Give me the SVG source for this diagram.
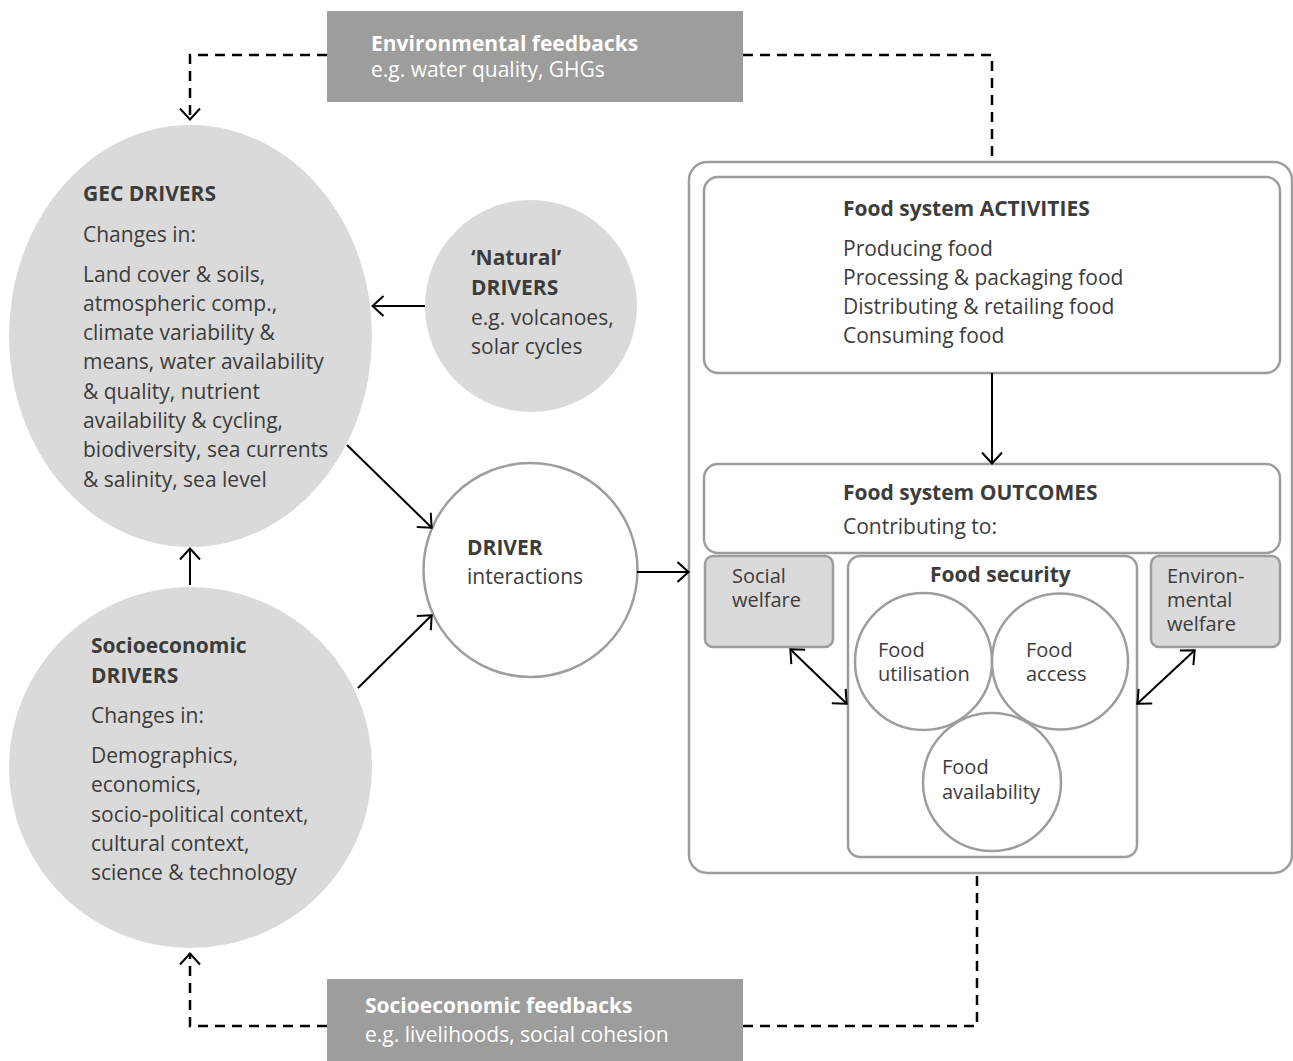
<svg xmlns="http://www.w3.org/2000/svg" width="1293" height="1061" viewBox="0 0 1293 1061">
<style>
text{font-family:"Open Sans","Noto Sans","DejaVu Sans",sans-serif;font-size:21px;fill:#3c3c3b}
.b{font-weight:700}
.w{fill:#ffffff}
.s{font-size:20px}
.fb{fill:#9d9d9c}
.drv{fill:#dadada}
.box{fill:#ffffff;stroke:#9d9d9c;stroke-width:2.5}
.gbox{fill:#dadada;stroke:#9d9d9c;stroke-width:2.5}
.ln{fill:none;stroke:#000;stroke-width:2}
.dash{fill:none;stroke:#000;stroke-width:2.5;stroke-dasharray:10 7}
</style>
<defs>
<marker id="arr" markerUnits="userSpaceOnUse" viewBox="0 0 14 22" markerWidth="14" markerHeight="22" refX="12.5" refY="11" orient="auto-start-reverse">
<path d="M1,1 L12,11 L1,21" fill="none" stroke="#000" stroke-width="2"/>
</marker>
</defs>

<g id="env-feedbacks">
<rect class="fb" x="327" y="11" width="416" height="91"/>
<text class="b w" x="371" y="51">Environmental feedbacks</text>
<text class="w" x="371" y="77">e.g. water quality, GHGs</text>
</g>

<g id="socio-feedbacks">
<rect class="fb" x="327" y="979" width="416" height="82"/>
<text class="b w" x="365" y="1013">Socioeconomic feedbacks</text>
<text class="w" x="365" y="1042">e.g. livelihoods, social cohesion</text>
</g>

<g id="gec-drivers">
<ellipse class="drv" cx="190.5" cy="336" rx="181.5" ry="211"/>
<text class="b" x="83" y="201">GEC DRIVERS</text>
<text x="83" y="242">Changes in:</text>
<text x="83" y="282">Land cover &amp; soils,</text>
<text x="83" y="311">atmospheric comp.,</text>
<text x="83" y="340">climate variability &amp;</text>
<text x="83" y="369">means, water availability</text>
<text x="83" y="399">&amp; quality, nutrient</text>
<text x="83" y="428">availability &amp; cycling,</text>
<text x="83" y="457">biodiversity, sea currents</text>
<text x="83" y="487">&amp; salinity, sea level</text>
</g>

<g id="natural-drivers">
<circle class="drv" cx="531" cy="306" r="106"/>
<text class="b" x="471" y="265">‘Natural’</text>
<text class="b" x="471" y="295">DRIVERS</text>
<text x="471" y="325">e.g. volcanoes,</text>
<text x="471" y="354">solar cycles</text>
</g>

<g id="socio-drivers">
<ellipse class="drv" cx="190.5" cy="767.5" rx="181.5" ry="180.5"/>
<text class="b" x="91" y="653">Socioeconomic</text>
<text class="b" x="91" y="683">DRIVERS</text>
<text x="91" y="723">Changes in:</text>
<text x="91" y="763">Demographics,</text>
<text x="91" y="792">economics,</text>
<text x="91" y="822">socio-political context,</text>
<text x="91" y="851">cultural context,</text>
<text x="91" y="880">science &amp; technology</text>
</g>

<g id="driver-interactions">
<circle class="box" cx="530.5" cy="570" r="107"/>
<text class="b" x="467" y="555">DRIVER</text>
<text x="467" y="584">interactions</text>
</g>

<g id="food-system">
<rect class="box" x="689" y="162" width="603" height="711" rx="18"/>
</g>

<g id="activities">
<rect class="box" x="704" y="177" width="576" height="196" rx="14"/>
<text class="b" x="843" y="216">Food system ACTIVITIES</text>
<text x="843" y="256">Producing food</text>
<text x="843" y="285">Processing &amp; packaging food</text>
<text x="843" y="314">Distributing &amp; retailing food</text>
<text x="843" y="343">Consuming food</text>
</g>

<g id="outcomes">
<rect class="box" x="704" y="464" width="576" height="89" rx="14"/>
<text class="b" x="843" y="500">Food system OUTCOMES</text>
<text x="843" y="534">Contributing to:</text>
</g>

<g id="social-welfare">
<rect class="gbox" x="705" y="556" width="128" height="91" rx="8"/>
<text class="s" x="732" y="583">Social</text>
<text class="s" x="732" y="607">welfare</text>
</g>

<g id="env-welfare">
<rect class="gbox" x="1151" y="556" width="129" height="91" rx="8"/>
<text class="s" x="1167" y="583">Environ-</text>
<text class="s" x="1167" y="607">mental</text>
<text class="s" x="1167" y="631">welfare</text>
</g>

<g id="food-security">
<rect class="box" x="848" y="556" width="289" height="301" rx="12"/>
<text class="b" x="930" y="582">Food security</text>
</g>

<g id="food-utilisation">
<circle class="box" cx="923.5" cy="661.5" r="68.5"/>
<text class="s" x="878" y="657">Food</text>
<text class="s" x="878" y="681">utilisation</text>
</g>

<g id="food-access">
<circle class="box" cx="1060" cy="661.5" r="68"/>
<text class="s" x="1026" y="657">Food</text>
<text class="s" x="1026" y="681">access</text>
</g>

<g id="food-availability">
<circle class="box" cx="992" cy="782" r="69"/>
<text class="s" x="942" y="774">Food</text>
<text class="s" x="942" y="799">availability</text>
</g>

<g id="connectors">
<path class="dash" d="M327,55 H190 V120" marker-end="url(#arr)"/>
<path class="dash" d="M743,55 H992 V162"/>
<path class="dash" d="M327,1026 H190 V953" marker-end="url(#arr)"/>
<path class="dash" d="M743,1026 H977 V873"/>
<path class="ln" d="M425,306 H372" marker-end="url(#arr)"/>
<path class="ln" d="M347,445 L432,528" marker-end="url(#arr)"/>
<path class="ln" d="M358,688 L432,615" marker-end="url(#arr)"/>
<path class="ln" d="M190,585 V548" marker-end="url(#arr)"/>
<path class="ln" d="M637,572 H689" marker-end="url(#arr)"/>
<path class="ln" d="M992,373 V464" marker-end="url(#arr)"/>
<path class="ln" d="M790,649 L847,704" marker-start="url(#arr)" marker-end="url(#arr)"/>
<path class="ln" d="M1137,704 L1195,650" marker-start="url(#arr)" marker-end="url(#arr)"/>
</g>
</svg>
